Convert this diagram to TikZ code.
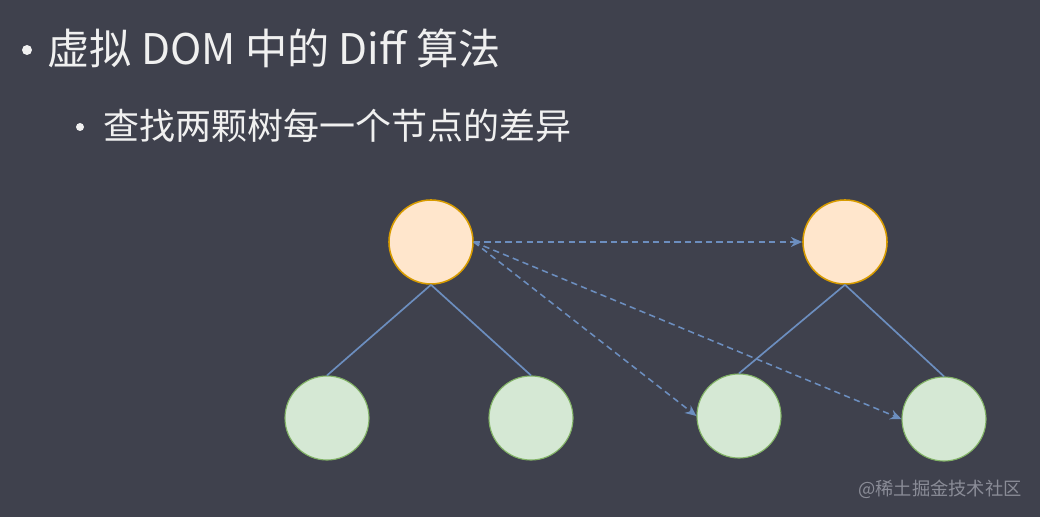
\documentclass[tikz,border=0pt]{standalone}
\usepackage{fontspec}
\newfontfamily\cjk{Noto Sans CJK SC}
\usetikzlibrary{arrows.meta}
\definecolor{slidebg}{HTML}{3F414D}
\definecolor{rootfill}{HTML}{FFE6CC}
\definecolor{rootline}{HTML}{D79B00}
\definecolor{leaffill}{HTML}{D5E8D4}
\definecolor{leafline}{HTML}{82B366}
\definecolor{linkblue}{HTML}{6C8EBF}
\definecolor{marktext}{HTML}{8A8C97}

\begin{document}
\begin{tikzpicture}[x=0.025cm,y=-0.025cm,
  root/.style={circle,draw=rootline,fill=rootfill,line width=1.1pt,minimum size=2.1cm,inner sep=0pt},
  leaf/.style={circle,draw=leafline,fill=leaffill,line width=0.8pt,minimum size=2.1cm,inner sep=0pt},
  edge/.style={draw=linkblue,line width=1.2pt},
  diff/.style={draw=linkblue,line width=1.1pt,dash pattern=on 4.5pt off 3pt,-{Stealth[length=8pt,width=7pt]}},
  dot/.style={circle,fill=white!94!black,inner sep=0pt},
  slidetext/.style={text=white!94!black,anchor=base west,inner sep=0pt}]
\fill [slidebg] (0,0) rectangle (1040,517);
% title lines
\node [dot,minimum size=0.25cm] (dot1) at (27,50) {};
\node [slidetext,font=\cjk\fontsize{30pt}{32pt}\selectfont] (title) at (47,65) {虚拟 DOM 中的 Diff 算法};
\node [dot,minimum size=0.2cm] (dot2) at (80,127) {};
\node [slidetext,font=\cjk\fontsize{25.6pt}{27pt}\selectfont] (sub) at (103,140) {查找两颗树每一个节点的差异};
% old tree
\node [root] (r1) at (431,242) {};
\node [leaf] (l1) at (327,418) {};
\node [leaf] (l2) at (531,418) {};
% new tree
\node [root] (r2) at (845,242) {};
\node [leaf] (l3) at (739,416) {};
\node [leaf] (l4) at (944,419) {};
\draw [edge] (r1.south) -- (l1.north);
\draw [edge] (r1.south) -- (l2.north);
\draw [edge] (r2.south) -- (l3.north);
\draw [edge] (r2.south) -- (l4.north);
% compare
\draw [diff] (r1.east) -- (r2.west);
\draw [diff] (r1.east) -- (l3.west);
\draw [diff] (r1.east) -- (l4.west);
\node [text=marktext,anchor=base east,inner sep=0pt,font=\cjk\fontsize{13pt}{14pt}\selectfont] (mark) at (1022,495) {@稀土掘金技术社区};
\end{tikzpicture}
\end{document}
